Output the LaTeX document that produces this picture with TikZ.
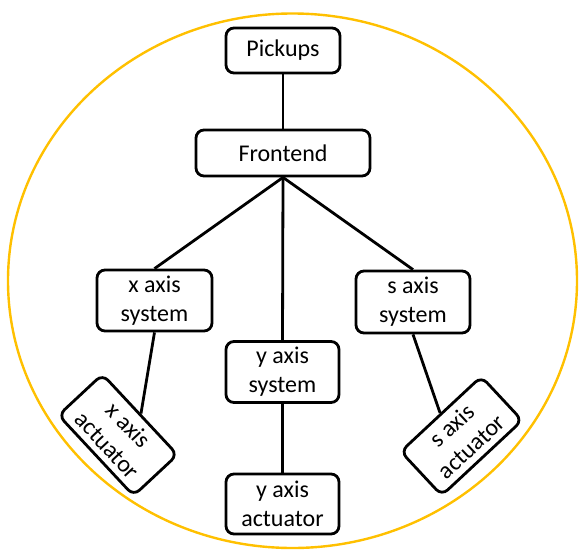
\documentclass[tikz,border=0pt]{standalone}
\usepackage{fontspec}
\setmainfont{Carlito}
\definecolor{ringorange}{HTML}{FFC000}
\begin{document}
\begin{tikzpicture}[x=1pt,y=-1pt,
  box/.style={draw=black, line width=2.8pt, rounded corners=8pt, fill=white,
    align=center, inner sep=0pt, font=\fontsize{24}{29}\selectfont},
  link/.style={draw=black, line width=2.8pt}]
\useasboundingbox (0,0) rectangle (585,559);
\draw[ringorange, line width=2.4pt] (292.5,280.75) ellipse [x radius=284.5, y radius=267.25];
\node[box, minimum width=114pt, minimum height=45pt] (pick) at (283,50.5) {Pickups};
\node[box, minimum width=174pt, minimum height=46pt] (front) at (283,153) {Frontend};
\node[box, minimum width=115pt, minimum height=61pt] (xsys) at (154.5,300.5) {x axis\\system};
\node[box, minimum width=113pt, minimum height=61pt] (ysys) at (282.5,372) {y axis\\system};
\node[box, minimum width=114pt, minimum height=62pt] (ssys) at (413,302) {s axis\\system};
\node[box, minimum width=113pt, minimum height=60pt] (yact) at (282.5,504) {y axis\\actuator};
\node[box, minimum width=110pt, minimum height=60pt, rotate=-47] (xact) at (118,435) {x axis\\actuator};
\node[box, minimum width=110pt, minimum height=60pt, rotate=43] (sact) at (461.5,436) {s axis\\actuator};
\draw[link] (pick.south) -- (front.north);
\draw[link] (front.south) -- (xsys.north);
\draw[link] (front.south) -- (ysys.north);
\draw[link] (front.south) -- (ssys.north);
\draw[link] (xsys.south) -- (xact.north);
\draw[link] (ysys.south) -- (yact.north);
\draw[link] (ssys.south) -- (sact.north);
\end{tikzpicture}
\end{document}
